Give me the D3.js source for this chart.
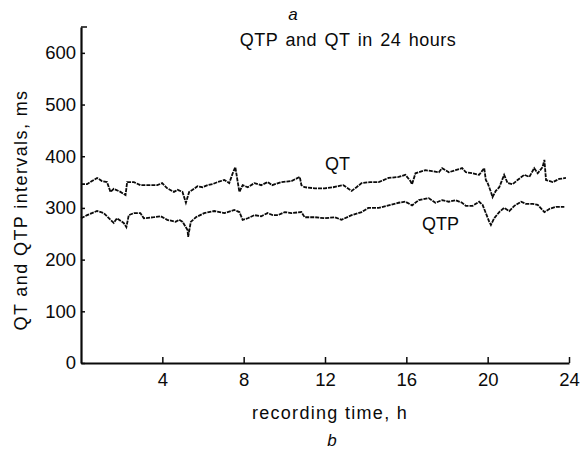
<!DOCTYPE html>
<html>
<head>
<meta charset="utf-8">
<script src="https://cdn.jsdelivr.net/npm/d3@7"></script>
<style>
  body { margin: 0; background: #fff; }
  svg { display: block; font-family: "Liberation Sans", Arial, sans-serif; }
</style>
</head>
<body>
<div id="chart"></div>
<script>
// readings: hours, ms
var qtHours = [0, 0.3, 0.54, 0.79, 1.03, 1.28, 1.45, 1.61, 1.94, 2.19, 2.27, 2.6, 2.92, 3.33, 3.75, 3.99, 4.24, 4.57,
  4.75, 4.99, 5.16, 5.32, 5.49, 5.73, 5.98, 6.23, 6.47, 6.72, 7.05, 7.29, 7.46, 7.59, 7.7, 7.79, 7.95, 8.2, 8.53, 8.86, 9.18, 9.4,
  9.86, 10.35, 10.76, 10.84, 11.0, 11.5, 11.99, 12.4, 12.65, 12.9, 13.31, 13.55, 13.8, 14.21,
  14.64, 15.13, 15.62, 15.95, 16.2, 16.28, 16.45, 16.94, 17.27, 17.6, 17.76, 18.09, 18.42, 18.74,
  18.93, 19.26, 19.58, 19.83, 19.91, 20.0, 20.16, 20.24, 20.4, 20.57, 20.81, 20.98, 21.23, 21.47, 21.8, 22.05, 22.29, 22.46, 22.7, 22.79, 22.87, 23.2, 23.52, 23.85];
var qtValues = [346, 346, 352, 358, 352, 350, 331, 337, 331, 325, 350, 350, 344, 344, 344, 348, 338, 331,
  335, 331, 310, 331, 335, 342, 340, 344, 346, 350, 354, 348, 367, 379, 352, 331, 344, 340, 348, 344, 350, 344,
  350, 352, 360, 344, 340, 338, 338, 340, 342, 344, 333, 340, 348, 350,
  350, 358, 360, 364, 352, 346, 367, 373, 371, 369, 377, 369, 373, 377,
  369, 367, 364, 377, 354, 348, 331, 321, 333, 340, 364, 348, 346, 354, 364, 360, 377, 367, 379, 393, 354, 350, 356, 358];

var qtpHours = [0, 0.3, 0.54, 0.79, 1.12, 1.45, 1.61, 1.77, 2.1, 2.23, 2.35, 2.6, 2.92, 3.09, 3.58, 3.91, 4.24, 4.65,
  4.83, 5.0, 5.24, 5.27, 5.4, 5.65, 6.06, 6.55, 7.05, 7.54, 7.79, 7.95, 8.2, 8.53, 8.86, 9.18, 9.43,
  9.69, 10.02, 10.35, 10.84, 11.0, 11.5, 11.99, 12.49, 12.81, 13.31, 13.8, 14.13,
  14.64, 15.13, 15.62, 15.95, 16.28, 16.61, 17.1, 17.43, 17.76, 18.09, 18.42, 18.74,
  18.93, 19.26, 19.58, 19.75, 19.91, 20.08, 20.16, 20.32, 20.57, 20.81, 21.06, 21.31, 21.64, 21.88, 22.21, 22.46, 22.79, 23.03, 23.36, 23.77];
var qtpValues = [280, 286, 290, 294, 290, 277, 271, 280, 271, 263, 286, 290, 290, 280, 282, 284, 277, 273,
  277, 273, 257, 244, 273, 282, 290, 294, 290, 296, 292, 277, 280, 286, 284, 290, 286,
  286, 292, 290, 292, 282, 282, 280, 282, 277, 286, 292, 300,
  300, 305, 310, 312, 305, 315, 319, 310, 315, 312, 315, 310,
  304, 304, 312, 306, 290, 273, 267, 280, 292, 300, 294, 304, 312, 308, 308, 306, 292, 298, 302, 302];

var xTicks = [4, 8, 12, 16, 20, 24];
var yTicks = [0, 100, 200, 300, 400, 500, 600];

var W = 583, H = 451;
var svg = d3.select("#chart").append("svg")
  .attr("width", W).attr("height", H);

var x = d3.scaleLinear().domain([0, 24]).range([81, 569]);
var y = d3.scaleLinear().domain([0, 650]).range([363, 27]);

var ink = "#0a0a0a";

// axes
var yAxis = svg.append("g")
  .attr("transform", "translate(" + x(0) + ",0)")
  .call(d3.axisLeft(y).tickValues(yTicks).tickSize(-4).tickSizeOuter(0).tickPadding(5));
svg.append("line")
  .attr("x1", x(0)).attr("x2", x(0) + 6)
  .attr("y1", y(650)).attr("y2", y(650))
  .attr("stroke", ink).attr("stroke-width", 1.5);

var xAxis = svg.append("g")
  .attr("transform", "translate(0," + y(0) + ")")
  .call(d3.axisBottom(x).tickValues(xTicks).tickSize(-6).tickSizeOuter(0).tickPadding(10));

[yAxis, xAxis].forEach(function(g) {
  g.select(".domain").attr("stroke", ink).attr("stroke-width", 2.2);
  g.selectAll(".tick line").attr("stroke", ink).attr("stroke-width", 1.5);
  g.selectAll(".tick text").attr("fill", ink)
    .style("font-family", "Liberation Sans, Arial, sans-serif")
    .style("font-size", "18.5px");
});

// traces
var line = d3.line()
  .x(function(d) { return x(d[0]); })
  .y(function(d) { return y(d[1]); });

var qt = d3.zip(qtHours, qtValues);
var qtp = d3.zip(qtpHours, qtpValues);

[qt, qtp].forEach(function(s) {
  svg.append("path")
    .datum(s)
    .attr("d", line)
    .attr("fill", "none")
    .attr("stroke", ink)
    .attr("stroke-width", 1.8)
    .attr("stroke-dasharray", "4,1");
});

// texts
svg.append("text")
  .attr("x", 293).attr("y", 20)
  .attr("text-anchor", "middle")
  .style("font-size", "17px").style("font-style", "italic")
  .attr("fill", ink).text("a");

svg.append("text")
  .attr("x", 348).attr("y", 46)
  .attr("text-anchor", "middle")
  .style("font-size", "18px").style("letter-spacing", "0.5px").style("word-spacing", "2px")
  .attr("fill", ink).text("QTP and QT in 24 hours");

svg.append("text")
  .attr("x", 325).attr("y", 170)
  .style("font-size", "18px")
  .attr("fill", ink).text("QT");

svg.append("text")
  .attr("x", 422).attr("y", 230)
  .style("font-size", "18px")
  .attr("fill", ink).text("QTP");

svg.append("text")
  .attr("transform", "translate(27,210) rotate(-90)")
  .attr("text-anchor", "middle")
  .style("font-size", "18px").style("letter-spacing", "1.4px")
  .attr("fill", ink).text("QT and QTP intervals, ms");

svg.append("text")
  .attr("x", 330).attr("y", 419)
  .attr("text-anchor", "middle")
  .style("font-size", "18px").style("letter-spacing", "1.3px")
  .attr("fill", ink).text("recording time, h");

svg.append("text")
  .attr("x", 332).attr("y", 446)
  .attr("text-anchor", "middle")
  .style("font-size", "17px").style("font-style", "italic")
  .attr("fill", ink).text("b");
</script>
</body>
</html>
